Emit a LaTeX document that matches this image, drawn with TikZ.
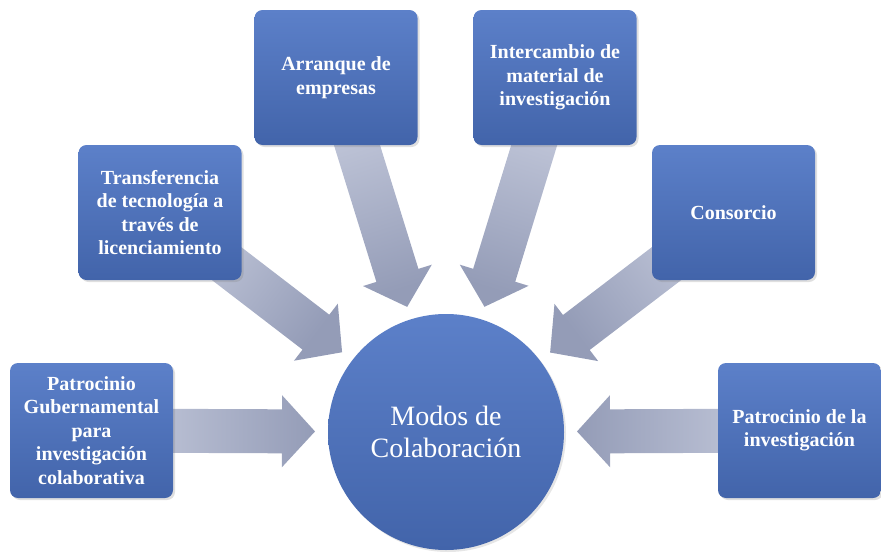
\documentclass[tikz,border=0pt]{standalone}
\usepackage{fontspec}
\setmainfont{Liberation Serif}
\usetikzlibrary{calc,shadows,backgrounds}
\definecolor{cajaclaro}{RGB}{92,128,201}
\definecolor{cajaoscuro}{RGB}{66,100,170}
\definecolor{flechaclaro}{RGB}{202,207,224}
\definecolor{flechaoscuro}{RGB}{148,156,183}

\begin{document}
\begin{tikzpicture}[x=1pt, y=-1pt,
    caja/.style={rounded corners=8pt, minimum width=163pt, minimum height=135pt,
      top color=cajaclaro, bottom color=cajaoscuro, text=white, align=center,
      font=\fontsize{20}{23.5}\selectfont\bfseries,
      drop shadow={opacity=0.25, shadow xshift=2pt, shadow yshift=-2pt}},
    circulo/.style={circle, minimum size=236pt, top color=cajaclaro, bottom color=cajaoscuro,
      text=white, align=center, font=\fontsize{28}{32}\selectfont,
      drop shadow={opacity=0.2, shadow xshift=2pt, shadow yshift=-2pt}},
    flecha/.style={left color=flechaclaro, right color=flechaoscuro}]
  \useasboundingbox (0,0) rectangle (881,554);
%  \draw [help lines] (0,0) grid[step=50] (881,554);

  \node [circulo] (c) at (446,432) {Modos de\\Colaboración};

  \node [caja] (pg) at (91.5,430.5) {Patrocinio\\Gubernamental\\para\\investigación\\colaborativa};
  \node [caja] (tt) at (160,212.5) {Transferencia\\de tecnología a\\través de\\licenciamiento};
  \node [caja] (ae) at (336,77.5) {Arranque de\\empresas};
  \node [caja] (im) at (555,77.5) {Intercambio de\\material de\\investigación};
  \node [caja] (co) at (733.5,212.5) {Consorcio};
  \node [caja] (pi) at (799.5,430.5) {Patrocinio de la\\investigación};

  % flechas hacia el centro
  \begin{scope}[on background layer]
    \foreach \b/\a in {pg/0, tt/-37.5, ae/-72.7, im/-107.1, co/-142.6, pi/180} {
      \pgfmathsetmacro\ang{\a+90}
      \coordinate (h) at ($(c)!164pt!(\b)$);
      \path [flecha, shading angle=\ang]
        ($(\b)!22pt!90:(c)$) -- ($(h)!22pt!90:(c)$) -- ($(h)!36pt!90:(c)$)
        -- ($(c)!131pt!(\b)$)
        -- ($(h)!36pt!-90:(c)$) -- ($(h)!22pt!-90:(c)$) -- ($(\b)!22pt!-90:(c)$) -- cycle;
    }
  \end{scope}
\end{tikzpicture}
\end{document}
